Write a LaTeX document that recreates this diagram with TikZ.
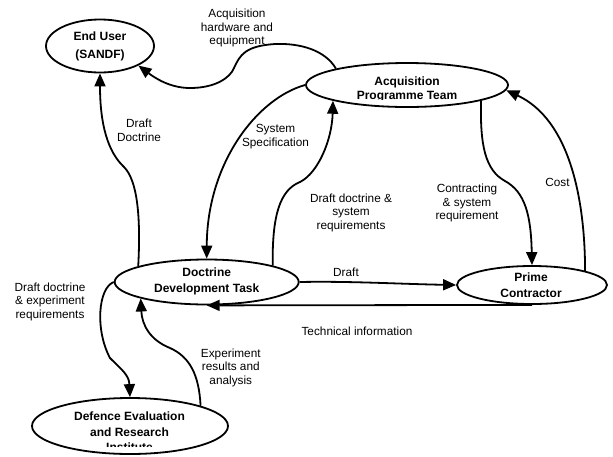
\documentclass[tikz,border=0pt]{standalone}
\usepackage{fontspec}
\setmainfont{Liberation Sans}
\usetikzlibrary{shapes.geometric,arrows.meta}
\begin{document}
\begin{tikzpicture}[x=1pt,y=-1pt,
  ell/.style={draw,ellipse,line width=1.8pt,inner sep=0pt},
  ntext/.style={font=\fontsize{12}{15}\selectfont\bfseries,anchor=base,inner sep=0pt},
  lbl/.style={font=\fontsize{11.8}{13.3}\selectfont,align=center,anchor=base,inner sep=0pt},
  conn/.style={line width=1.8pt,-{Triangle[length=13pt,width=11pt]}}]
\useasboundingbox (0,0) rectangle (613,456);
% ellipses
\node[ell,minimum width=108pt,minimum height=53pt] (eu) at (100,46) {};
\node[ell,minimum width=202pt,minimum height=44pt] (apt) at (407,85) {};
\node[ell,minimum width=184pt,minimum height=45pt] (ddt) at (206.7,282) {};
\node[ell,minimum width=150pt,minimum height=38pt] (pc) at (532,285) {};
\node[ell,minimum width=196pt,minimum height=56pt] (deri) at (130,426) {};
% node texts
\node[ntext] (eu1) at (100,40) {End User};
\node[ntext] (eu2) at (100,58.3) {(SANDF)};
\node[ntext] (dd1) at (206.7,276.7) {Doctrine};
\node[ntext] (dd2) at (206.7,292) {Development Task};
\begin{scope}
  \clip (300,0) rectangle (520,99.5);
  \node[ntext] (ap1) at (407,85) {Acquisition};
  \node[ntext] (ap2) at (407,99.3) {Programme Team};
\end{scope}
\begin{scope}
  \clip (450,260) rectangle (610,296.7);
  \node[ntext] (pc1) at (531,281.7) {Prime};
  \node[ntext] (pc2) at (531,297.3) {Contractor};
\end{scope}
\begin{scope}
  \clip (30,400) rectangle (230,446);
  \node[ntext] (de1) at (129.5,420.7) {Defence Evaluation};
  \node[ntext] (de2) at (129.5,436) {and Research};
  \node[ntext] (de3) at (129.5,451.3) {Institute};
\end{scope}
% connectors
\draw[conn] (apt.167) .. controls (325,50) and (300,43) .. (275,44)
  .. controls (245,46) and (240,55) .. (234,68)
  .. controls (230,78) and (215,88) .. (190,88)
  .. controls (170,88) and (155,78) .. (eu.-27);
\draw[conn] (ddt.167) .. controls (141,215) and (137,180) .. (124,167)
  .. controls (108,152) and (100,125) .. (eu.south);
\draw[conn] (apt.west) .. controls (258,98) and (207,162) .. (ddt.north);
\draw[conn] (ddt.14) .. controls (272,215) and (280,190) .. (300,182)
  .. controls (318,173) and (332,140) .. (apt.-168);
\draw[conn] (apt.-12) .. controls (480,145) and (485,170) .. (505,181)
  .. controls (525,192) and (531,215) .. (pc.north);
\draw[conn] (pc.15) .. controls (585,200) and (570,120) .. (apt.-3);
\draw[conn] (ddt.east) .. controls (350,281) and (400,284) .. (pc.west);
\draw[conn] (pc.south) -- (ddt.south);
\draw[conn] (ddt.west) .. controls (98,288) and (95,330) .. (110,358)
  .. controls (122,370) and (129,375) .. (deri.north);
\draw[conn] (deri.16) .. controls (199,375) and (190,357) .. (170,348)
  .. controls (150,340) and (142,325) .. (ddt.-166);
% labels (base anchor = baseline of last line)
\node[lbl] (l1) at (237,44.5) {Acquisition\\hardware and\\equipment};
\node[lbl] (l2) at (139,141) {Draft\\Doctrine};
\node[lbl] (l3) at (275.5,146) {System\\Specification};
\node[lbl] (l4) at (351,229) {Draft doctrine \&\\system\\requirements};
\node[lbl] (l5) at (467,219.5) {Contracting\\\& system\\requirement};
\node[lbl] (l6) at (557.5,186.7) {Cost};
\node[lbl] (l7) at (346,276) {Draft};
\node[lbl] (l8) at (357,335) {Technical information};
\node[lbl] (l9) at (50,318) {Draft doctrine\\\& experiment\\requirements};
\node[lbl] (l10) at (230.8,384) {Experiment\\results and\\analysis};
\end{tikzpicture}
\end{document}
